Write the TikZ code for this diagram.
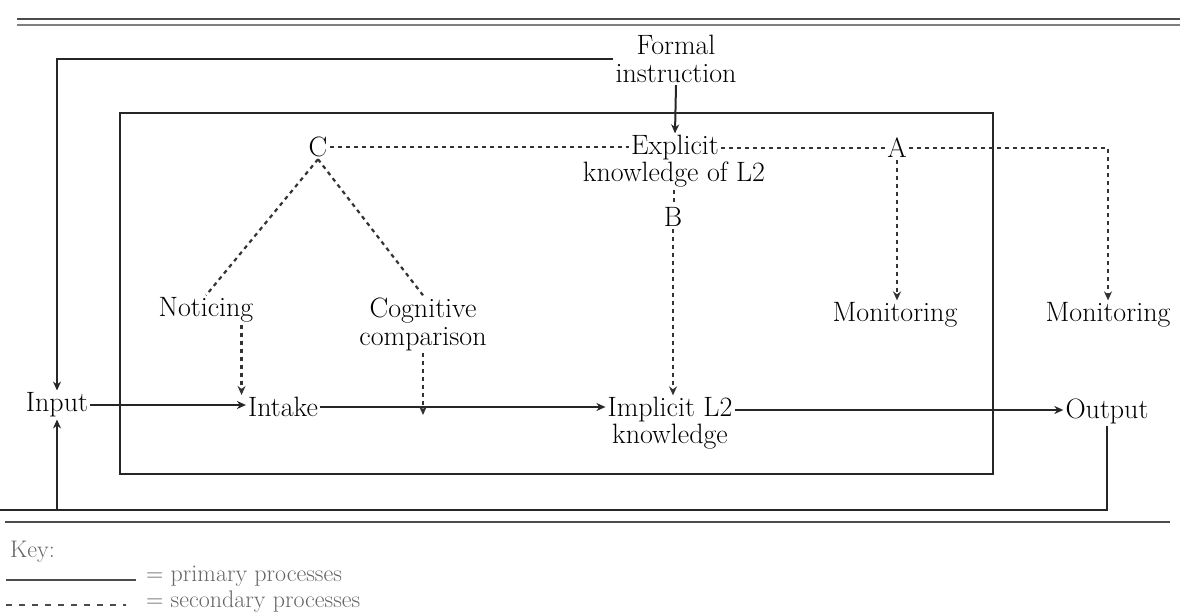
\documentclass[tikz,border=0pt]{standalone}
\usetikzlibrary{arrows.meta}
\begin{document}
\begin{tikzpicture}[x=1pt,y=-1pt,
  lbl/.style={font=\fontsize{28}{28}\selectfont, inner sep=2pt, text=black, align=center},
  keytxt/.style={font=\fontsize{24}{24}\selectfont, inner sep=0pt, text=black!60, anchor=base west},
  prim/.style={line width=2pt, draw=black!85},
  sec/.style={line width=2.2pt, draw=black!80, dash pattern=on 4pt off 4pt},
  tip/.style={-{Stealth[length=9pt,width=8pt]}},
  rulea/.style={line width=2.5pt, draw=black!70},
  ruleb/.style={line width=1.8pt, draw=black!50}]
\useasboundingbox (0,0) rectangle (1180,612);
% rules
\draw[rulea] (17,19) -- (1180,19);
\draw[ruleb] (17,25) -- (1180,25);
\draw[rulea] (5,522) -- (1170,522);
% inner frame
\draw[prim] (120,113) rectangle (993,474);
% nodes
\node[lbl] (formal) at (676,59) {Formal\\instruction};
\node[lbl] (explicit) at (675,148) {Explicit};
\node[lbl] (explicitb) at (674,175) {knowledge of L2};
\node[lbl] (C) at (318,147) {C};
\node[lbl] (A) at (897,148) {A};
\node[lbl] (B) at (673,217) {B};
\node[lbl] (noticing) at (206,310) {Noticing};
\node[lbl] (cognitive) at (423,324) {Cognitive\\comparison};
\node[lbl] (mon1) at (895,315) {Monitoring};
\node[lbl] (mon2) at (1108,315) {Monitoring};
\node[lbl] (input) at (57,405) {Input};
\node[lbl] (intake) at (283,407) {Intake};
\node[lbl] (implicit) at (670,410) {Implicit L2};
\node[lbl] (implicitb) at (670,437) {knowledge};
\node[lbl] (output) at (1107,411) {Output};
\coordinate (bot) at (0,510);
% primary connectors
\draw[prim,tip] (formal.south) -- (explicit.north);
\draw[prim,tip] (formal.west) -| (input.north);
\draw[prim,tip] (input.east) -- (input.east -| intake.west);
\draw[prim,tip] (intake.east) -- (intake.east -| implicit.west);
\draw[prim,tip] (implicit.east) -- (implicit.east -| output.west);
\draw[prim,tip] (output.south) |- (bot) -| (input.south);
% secondary connectors
\draw[sec] (C.east) -- (C.east -| explicit.west);
\draw[sec] (explicit.east) -- (explicit.east -| A.west);
\draw[sec,tip] (A.east) -| (mon2.north);
\draw[sec,tip] (A.south) -- (A.south |- mon1.north);
\draw[sec] (explicitb.south) -- (explicitb.south |- B.north);
\draw[sec,tip] (B.south) -- (B.south |- implicit.north);
\draw[sec] (C.south) -- (noticing.north);
\draw[sec] (C.south) -- (cognitive.north);
\draw[sec,tip] ([xshift=-14pt]noticing.south east) -- ([xshift=-14pt]noticing.south east |- intake.north);
\draw[sec,tip] (cognitive.south) -- ([yshift=-8pt]cognitive.south |- intake.east);
% key
\node[keytxt] (key) at (10,557) {Key:};
\coordinate (k1) at (6,580);
\coordinate (k2) at (136,580);
\draw[line width=1.5pt, draw=black!70] (k1) -- (k2);
\node[keytxt] (primk) at (146,581) {= primary processes};
\coordinate (k3) at (6,605);
\coordinate (k4) at (126,605);
\draw[line width=1.5pt, draw=black!70, dash pattern=on 6pt off 7pt] (k3) -- (k4);
\node[keytxt] (seck) at (146,607) {= secondary processes};
\end{tikzpicture}
\end{document}
